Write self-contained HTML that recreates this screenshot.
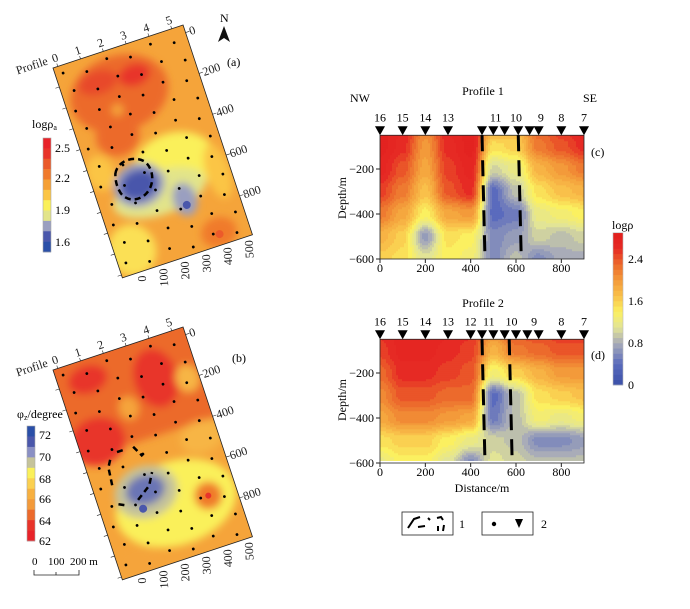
<!DOCTYPE html>
<html><head><meta charset="utf-8"><style>
body{margin:0;background:#fff;}
svg, svg text{font-family:"Liberation Serif","DejaVu Serif",serif;}
</style></head><body>
<svg id="fig" width="690" height="604" viewBox="0 0 690 604" xmlns="http://www.w3.org/2000/svg" font-family="Liberation Serif, serif">
<defs>
  <filter id="bl" x="-50%" y="-50%" width="200%" height="200%"><feGaussianBlur stdDeviation="4"/></filter>
  <clipPath id="mapclip"><rect x="0" y="0" width="137" height="221"/></clipPath>
  <clipPath id="clipc"><rect x="380" y="135" width="204" height="124"/></clipPath>
  <clipPath id="clipd"><rect x="380" y="339" width="204" height="122"/></clipPath>
</defs>

<!-- Map (a) -->
<g transform="translate(53,68) rotate(-18.3)">
  <g clip-path="url(#mapclip)">
    <rect x="0" y="0" width="137" height="221" fill="#f5a43a"/>
    <g filter="url(#bl)">
      <ellipse cx="55" cy="45" rx="50" ry="38" fill="#ec6a2c"/>
      <ellipse cx="40" cy="85" rx="22" ry="20" fill="#ec6a2c"/>
      <ellipse cx="38" cy="28" rx="20" ry="12" fill="#e84a2a"/>
      <ellipse cx="75" cy="32" rx="16" ry="11" fill="#e8342a"/>
      <ellipse cx="48" cy="60" rx="6" ry="6" fill="#f5a43a"/>
      <ellipse cx="12" cy="115" rx="14" ry="18" fill="#fbc545"/>
      <ellipse cx="85" cy="130" rx="42" ry="32" fill="#faf05a"/>
      <ellipse cx="62" cy="152" rx="48" ry="22" fill="#e2e48a"/>
      <ellipse cx="18" cy="198" rx="24" ry="26" fill="#fbe055"/>
      <ellipse cx="45" cy="138" rx="26" ry="22" fill="#9a9fc0"/>
      <ellipse cx="45" cy="138" rx="19" ry="15" fill="#4a57ab"/>
      <ellipse cx="84" cy="166" rx="12" ry="17" fill="#9a9fc0"/>
      <ellipse cx="106" cy="208" rx="18" ry="15" fill="#f07a2c"/>
      <ellipse cx="124" cy="150" rx="12" ry="28" fill="#fbc545"/>
    </g>
    <circle cx="84" cy="172" r="4" fill="#4a57ab"/>
    <circle cx="106" cy="210" r="4" fill="#ec5a2a"/>
    <g id="dotsA"></g>
    <path d="M26,120 C32,108 50,108 58,118 C64,128 60,142 50,148 C40,154 28,150 25,140 C23,132 24,126 26,120Z" fill="none" stroke="#000" stroke-width="2.5" stroke-dasharray="6,4"/>
  </g>
  <rect x="0" y="0" width="137" height="221" fill="none" stroke="#222" stroke-width="0.8"/>
  <g id="labelsA" font-size="12" fill="#222"></g>
</g>

<!-- Map (b) -->
<g transform="translate(53,370) rotate(-18.3)">
  <g clip-path="url(#mapclip)">
    <rect x="0" y="0" width="137" height="221" fill="#f5a43a"/>
    <g filter="url(#bl)">
      <rect x="-10" y="-10" width="160" height="105" fill="#ec6a2c"/>
      <ellipse cx="30" cy="20" rx="20" ry="14" fill="#e8342a"/>
      <ellipse cx="95" cy="40" rx="22" ry="30" fill="#e8342a"/>
      <ellipse cx="20" cy="82" rx="28" ry="24" fill="#e8342a"/>
      <ellipse cx="60" cy="60" rx="10" ry="12" fill="#f5a43a"/>
      <ellipse cx="125" cy="50" rx="12" ry="14" fill="#f7b545"/>
      <ellipse cx="75" cy="165" rx="62" ry="42" fill="#faf05a"/>
      <ellipse cx="50" cy="145" rx="32" ry="26" fill="#c5c39a"/>
      <ellipse cx="50" cy="143" rx="20" ry="15" fill="#6a74b5"/>
      <ellipse cx="18" cy="212" rx="22" ry="20" fill="#f5a43a"/>
      <ellipse cx="108" cy="168" rx="14" ry="14" fill="#f07a2c"/>
      <ellipse cx="120" cy="110" rx="22" ry="16" fill="#f7b545"/>
    </g>
    <circle cx="108" cy="168" r="3" fill="#e8342a"/>
    <circle cx="42" cy="160" r="4" fill="#4a57ab"/>
    <g id="dotsB"></g>
    <path d="M20,128 L22,110 L28,100 M35,98 L45,98 M52,98 L58,110 M40,150 L55,140 L62,128 M20,148 L28,152" fill="none" stroke="#000" stroke-width="2.5" stroke-dasharray="6,4"/>
  </g>
  <rect x="0" y="0" width="137" height="221" fill="none" stroke="#222" stroke-width="0.8"/>
  <g id="labelsB" font-size="12" fill="#222"></g>
</g>

<!-- North arrow & panel labels -->
<text x="220" y="22" font-size="12">N</text>
<path d="M224,26 L218,42 L224,38 L230,42Z" fill="#111"/>
<text x="227" y="66" font-size="12">(a)</text>
<text x="232" y="362" font-size="12">(b)</text>

<!-- Colorbar a -->
<text x="32" y="128" font-size="12">logρ<tspan font-size="8" dy="2">a</tspan></text>
<g id="cbA"></g>
<!-- Colorbar b -->
<text x="17" y="418" font-size="12">φ<tspan font-size="8" dy="2">z</tspan><tspan dy="-2">/degree</tspan></text>
<g id="cbB"></g>
<!-- scale bar -->
<g font-size="11">
  <text x="32" y="565">0</text><text x="48" y="565">100</text><text x="70" y="565">200 m</text>
  <path d="M34,570 V575 H79 V570 M56,572 V575" stroke="#222" fill="none" stroke-width="0.8"/>
</g>

<!-- Sections -->
<g id="secC"></g>
<g id="secD"></g>
<text x="483" y="95" font-size="12" text-anchor="middle">Profile 1</text>
<text x="350" y="102" font-size="12">NW</text>
<text x="583" y="102" font-size="12">SE</text>
<text x="483" y="307" font-size="12" text-anchor="middle">Profile 2</text>
<text x="591" y="156" font-size="12">(c)</text>
<text x="591" y="359" font-size="12">(d)</text>
<text x="0" y="0" font-size="12" text-anchor="middle" transform="translate(346,198) rotate(-90)">Depth/m</text>
<text x="0" y="0" font-size="12" text-anchor="middle" transform="translate(346,400) rotate(-90)">Depth/m</text>
<text x="482" y="492" font-size="12" text-anchor="middle">Distance/m</text>

<!-- section colorbar -->
<text x="612" y="229" font-size="12">logρ</text>
<g id="cbS"></g>

<!-- legend -->
<g font-size="12">
  <rect x="402" y="512" width="51" height="23" fill="none" stroke="#222" stroke-width="0.8"/>
  <path d="M408,528 L414,519 L420,517 M418,527 L425,526 M428,518 L430,520 M437,518 L441,517 L443,520 M438,526 L438,531 M444,525 L443,531" stroke="#000" stroke-width="2" fill="none"/>
  <text x="459" y="528">1</text>
  <rect x="482" y="512" width="51" height="23" fill="none" stroke="#222" stroke-width="0.8"/>
  <circle cx="494" cy="524" r="2.2" fill="#000"/>
  <path d="M515,519 L523,519 L519,528Z" fill="#000"/>
  <text x="541" y="528">2</text>
</g>
</svg>
<script>
const NS='http://www.w3.org/2000/svg';
// ---- section data ----
const distances=[0,100,200,300,400,500,600,700,800,900];
const depths=[0,-100,-200,-300,-400,-500,-600];
const profile1Values=[
 [2.8,2.7,2.2,2.7,2.8,2.0,1.8,2.4,2.6,2.8],
 [2.8,2.6,2.0,2.6,2.8,1.5,1.6,2.2,2.4,2.6],
 [2.7,2.4,1.9,2.5,2.7,1.0,1.2,1.8,2.0,2.2],
 [2.5,2.2,1.7,2.4,2.6,0.4,0.9,1.5,1.7,1.8],
 [2.2,1.9,1.4,1.9,2.0,0.4,0.5,1.2,1.3,1.4],
 [1.8,1.6,0.7,1.5,1.4,0.6,0.7,1.0,0.9,1.0],
 [1.6,1.5,1.1,1.4,1.3,0.6,0.9,0.6,0.8,0.8]];
const profile2Values=[
 [2.6,2.7,2.8,2.7,2.6,2.2,2.5,2.5,2.6,2.6],
 [2.5,2.7,2.7,2.6,2.5,1.8,2.2,2.3,2.4,2.4],
 [2.3,2.6,2.6,2.5,2.4,1.3,1.6,1.8,2.0,2.0],
 [2.1,2.4,2.4,2.3,2.3,0.4,0.9,1.5,1.6,1.7],
 [1.9,2.1,2.1,2.0,1.9,0.5,0.9,1.3,1.2,1.3],
 [1.5,1.6,1.6,1.4,1.2,1.0,0.9,0.6,0.6,0.7],
 [1.2,1.4,1.4,1.1,0.6,1.1,1.0,0.9,0.9,0.9]];
const stations1=[0,100,200,300,450,500,550,610,660,700,800,900];
const stationLabels1=[['16',0],['15',100],['14',200],['13',300],['11',510],['10',600],['9',710],['8',800],['7',900]];
const stations2=[0,100,200,300,400,450,500,550,600,650,700,800,900];
const stationLabels2=[['16',0],['15',100],['14',200],['13',300],['12',400],['11',480],['10',580],['9',680],['8',800],['7',900]];
const faults1=[450,610];
const faults2=[450,570];
const depthTicks=[-200,-400,-600];
const distTicks=[0,200,400,600,800];
const sectionCbTicks=[0,0.8,1.6,2.4];

const stops=[[0,[58,79,168]],[0.4,[90,107,189]],[0.8,[169,172,184]],[1.1,[226,228,150]],[1.4,[251,240,96]],[1.7,[249,192,74]],[2.0,[243,154,58]],[2.3,[236,106,44]],[2.6,[230,42,36]],[3.0,[224,27,27]]];
function cmap(v){
  if(v<=stops[0][0])return rgb(stops[0][1]);
  for(let i=1;i<stops.length;i++){if(v<=stops[i][0]){const a=stops[i-1],b=stops[i],t=(v-a[0])/(b[0]-a[0]);return rgb(a[1].map((c,k)=>c+(b[1][k]-c)*t));}}
  return rgb(stops[stops.length-1][1]);
}
function rgb(c){return 'rgb('+c.map(x=>Math.round(x)).join(',')+')';}
function el(tag,attrs,parent){const e=document.createElementNS(NS,tag);for(const k in attrs)e.setAttribute(k,attrs[k]);parent.appendChild(e);return e;}

function drawSection(gid,vals,top0,clip,stations,labels,faults){
  const g=document.getElementById(gid);
  const xS=d=>380+d*204/900;
  const yS=d=>top0+(-d)*45/200;
  const yTop=yS(-50), yBot=yS(-600);
  const cg=el('g',{'clip-path':'url(#'+clip+')'},g);
  const dx=2,dy=2;
  for(let px=380;px<584;px+=dx){
    for(let py=yTop;py<yBot;py+=dy){
      const d=(px+dx/2-380)/204*900, z=(py+dy/2-top0)/45*200;
      let fi=Math.min(d/100,8.999), fj=Math.min(z/100,5.999);
      const i=Math.floor(fi),j=Math.floor(fj),tx=fi-i,ty=fj-j;
      const sx=tx*tx*(3-2*tx), sy=ty*ty*(3-2*ty);
      const v=vals[j][i]*(1-sx)*(1-sy)+vals[j][i+1]*sx*(1-sy)+vals[j+1][i]*(1-sx)*sy+vals[j+1][i+1]*sx*sy;
      const q=Math.round(v*10)/10;
      el('rect',{x:px,y:py,width:dx+0.4,height:dy+0.4,fill:cmap(q)},cg);
    }
  }
  el('rect',{x:380,y:yTop,width:204,height:yBot-yTop,fill:'none',stroke:'#222','stroke-width':0.8},g);
  faults.forEach(f=>{
    const l=el('line',{x1:xS(f),y1:yTop,x2:xS(f)+3,y2:yBot,stroke:'#000','stroke-width':3,'stroke-dasharray':'16,9'},g);
    
    
  });
  stations.forEach(s=>{
    const x=xS(s);
    const t=el('path',{d:`M${x-5},${yTop-9} L${x+5},${yTop-9} L${x},${yTop}Z`,fill:'#000'},g);
    
    
  });
  labels.forEach(([n,s])=>{
    const t=el('text',{x:xS(s),y:yTop-14,'font-size':12,'text-anchor':'middle'},g);t.textContent=n;
    
    
  });
  depthTicks.forEach(d=>{
    el('line',{x1:376,y1:yS(d),x2:380,y2:yS(d),stroke:'#222'},g);
    const t=el('text',{x:374,y:yS(d)+4,'font-size':12,'text-anchor':'end'},g);t.textContent='\u2212'+(-d);
    
    
  });
  distTicks.forEach(d=>{
    el('line',{x1:xS(d),y1:yBot,x2:xS(d),y2:yBot+4,stroke:'#222'},g);
    const t=el('text',{x:xS(d),y:yBot+13,'font-size':12,'text-anchor':'middle'},g);t.textContent=d;
    
    
  });
}
drawSection('secC',profile1Values,124,'clipc',stations1,stationLabels1,faults1);
drawSection('secD',profile2Values,328,'clipd',stations2,stationLabels2,faults2);

// section colorbar
(function(){
  const g=document.getElementById('cbS');
  const yv=v=>385-v*42/0.8;
  for(let k=0;k<29;k++){
    const v=k/10;
    el('rect',{x:613,y:yv(v+0.1),width:10,height:42/8+0.3,fill:cmap(v+0.05)},g);
  }
  el('rect',{x:613,y:yv(2.9),width:10,height:yv(0)-yv(2.9),fill:'none',stroke:'#bbb','stroke-width':0.6},g);
  sectionCbTicks.forEach(v=>{const t=el('text',{x:628,y:yv(v)+4,'font-size':12},g);t.textContent=v;
    
    });
})();

// map colorbars
const cbAColors=['#e8232a','#e8342a','#ea5a2a','#f07a2c','#f5a035','#fbc545','#faf05a','#e2e48a','#9a9fc0','#4a57ab','#2a4fa8'];
const cbALabels=[['2.5',148],['2.2',178],['1.9',210],['1.6',242]];
const cbBColors=['#2a4fa8','#4a57ab','#8a90c4','#c5c39a','#faf05a','#fbd050','#f7b040','#f39a3a','#ec6a2c','#e8342a','#e8232a'];
const cbBLabels=[['72',435],['70',457],['68',479],['66',499],['64',521],['62',541]];
function drawCb(gid,x,y0,h,colors,labels){
  const g=document.getElementById(gid);const sh=h/colors.length;
  colors.forEach((c,i)=>el('rect',{x:x,y:y0+i*sh,width:8,height:sh+0.3,fill:c},g));
  el('rect',{x:x,y:y0,width:8,height:h,fill:'none',stroke:'#aaa','stroke-width':0.6},g);
  labels.forEach(([t,y])=>{const e=el('text',{x:x+12,y:y+4,'font-size':12},g);e.textContent=t;
    
    });
}
drawCb('cbA',43,138,114,cbAColors,cbALabels);
drawCb('cbB',27,426,115,cbBColors,cbBLabels);

// map dots and labels
function mapDeco(dotId,labId){
  const dg=document.getElementById(dotId);
  for(let i=0;i<6;i++)for(let j=0;j<11;j++){
    const x=8+i*23+((j%2)?5:0), y=8+j*20+((i%2)?6:0);
    if(x>134||y>218)continue;
    el('circle',{cx:x,cy:y,r:1.4,fill:'#000'},dg);
  }
  const lg=document.getElementById(labId);
  let t=el('text',{x:-3,y:-5,'text-anchor':'end'},lg);t.textContent='Profile';
  ['0','1','2','3','4','5'].forEach((n,i)=>{const e=el('text',{x:2+i*24,y:-5},lg);e.textContent=n;
    el('line',{x1:5+i*24,y1:0,x2:5+i*24,y2:-3,stroke:'#222','stroke-width':0.6},lg);});
  [0,200,400,600,800].forEach(d=>{const y=8+d*0.215;
    el('line',{x1:137,y1:y,x2:141,y2:y,stroke:'#222','stroke-width':0.6},lg);
    const e=el('text',{x:141,y:y+4},lg);e.textContent=d;});
  [0,100,200,300,400,500].forEach((d,i)=>{const x=20+i*22.5;
    const e=el('text',{x:0,y:0,transform:`translate(${x+3},${226}) rotate(-75)`,'text-anchor':'end'},lg);e.textContent=d;});
  for(let k=0;k<10;k++){el('line',{x1:0,y1:20+k*22,x2:-4,y2:20+k*22,stroke:'#222','stroke-width':0.6},lg);}
}
mapDeco('dotsA','labelsA');
mapDeco('dotsB','labelsB');
</script>
</body></html>
